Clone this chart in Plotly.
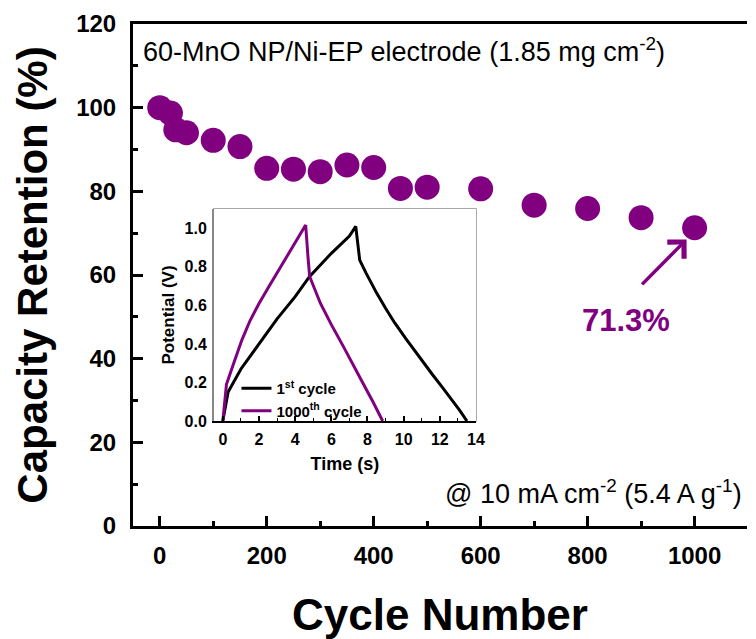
import plotly.graph_objects as go

# ---------------- data ----------------
cycles = [0, 20, 30, 50, 100, 150, 200, 250, 300, 350, 400, 450, 500, 600, 700, 800, 900, 1000]
retention = [100, 98.7, 94.7, 94.0, 92.2, 90.7, 85.5, 85.3, 84.7, 86.3, 85.7, 80.7, 81.0, 80.6, 76.7, 75.9, 73.7, 71.3]

x_ticks = [0, 200, 400, 600, 800, 1000]
y_ticks = [0, 20, 40, 60, 80, 100, 120]

# inset: galvanostatic charge/discharge curves
t_first = [0, 0.29, 1.0, 2.0, 3.0, 4.0, 4.8, 6.0, 7.0, 7.35, 7.57, 7.93, 8.5, 9.0, 9.5, 10.1,
           10.6, 11.1, 11.6, 12.1, 12.6, 13.1, 13.5]
v_first = [0, 0.15, 0.27, 0.40, 0.53, 0.645, 0.75, 0.87, 0.96, 1.01, 0.835, 0.766, 0.665, 0.585, 0.51, 0.43,
           0.365, 0.30, 0.24, 0.18, 0.12, 0.055, 0]
t_last = [0, 0.2, 0.6, 1.05, 1.5, 2.0, 2.5, 3.2, 4.0, 4.58, 4.71, 4.8, 5.4, 6.0, 6.67, 7.2, 7.75, 8.3, 8.84]
v_last = [0, 0.19, 0.30, 0.42, 0.52, 0.61, 0.69, 0.80, 0.92, 1.017, 0.85, 0.75, 0.61, 0.50, 0.386, 0.29, 0.196, 0.10, 0]

final_label = "71.3%"
arrow_tail = (899, 57.4)
arrow_head = (985, 68.5)

PURPLE = "#800080"
FONT = "Liberation Sans, Arial, sans-serif"

fig = go.Figure()

fig.add_trace(go.Scatter(
    x=cycles, y=retention, mode="markers",
    marker=dict(size=25, color=PURPLE, line=dict(width=0)),
    showlegend=False, xaxis="x", yaxis="y"))

fig.add_trace(go.Scatter(
    x=t_first, y=v_first, mode="lines", name="1<sup>st</sup> cycle",
    line=dict(color="black", width=3), xaxis="x2", yaxis="y2"))
fig.add_trace(go.Scatter(
    x=t_last, y=v_last, mode="lines", name="1000<sup>th</sup> cycle",
    line=dict(color=PURPLE, width=3), xaxis="x2", yaxis="y2"))

# inset domain in paper coords
L, R, T, B = 133, 756, 24, 526
W, H = R - L, B - T
def px_x(p):
    return (p - L) / W
def px_y(p):
    return (B - p) / H

ix0, ix1 = px_x(215), px_x(481)
iy0, iy1 = px_y(421), px_y(209)

fig.update_layout(
    width=756, height=639,
    margin=dict(l=L, r=0, t=T, b=639 - B),
    plot_bgcolor="white", paper_bgcolor="white",
    font=dict(family=FONT, color="black"),
    xaxis=dict(
        range=[-50, 1098], tickvals=x_ticks, showline=True, linewidth=3, linecolor="black",
        mirror=True, ticks="inside", ticklen=10, tickwidth=2.5, tickcolor="black",
        minor=dict(dtick=100, tick0=0, ticks="inside", ticklen=5, tickwidth=2.5, tickcolor="black"),
        showgrid=False, zeroline=False,
        tickfont=dict(size=24, family=FONT, weight="bold"),
        ticklabelstandoff=6,
        title=dict(text="Cycle Number", font=dict(size=44, family=FONT, weight="bold"), standoff=34),
        domain=[0, 1],
    ),
    yaxis=dict(
        range=[0, 120], tickvals=y_ticks, showline=True, linewidth=3, linecolor="black",
        mirror=False, ticks="inside", ticklen=10, tickwidth=2.5, tickcolor="black",
        minor=dict(dtick=10, tick0=0, ticks="inside", ticklen=5, tickwidth=2.5, tickcolor="black"),
        showgrid=False, zeroline=False,
        tickfont=dict(size=24, family=FONT, weight="bold"),
        ticklabelstandoff=9,
        title=dict(text="Capacity Retention (%)", font=dict(size=42, family=FONT, weight="bold"), standoff=16),
        domain=[0, 1],
    ),
    xaxis2=dict(
        domain=[ix0, ix1], anchor="y2", range=[-0.5, 14], dtick=2, tick0=0,
        showline=True, linewidth=2, linecolor="black", mirror=False,
        ticks="inside", ticklen=5, tickwidth=1.5, tickcolor="black",
        minor=dict(dtick=1, tick0=0, ticks="inside", ticklen=3, tickwidth=1.2, tickcolor="black"),
        showgrid=False, zeroline=False,
        tickfont=dict(size=16, family=FONT, weight="bold"),
        ticklabelstandoff=3,
        title=dict(text="Time (s)", font=dict(size=18, family=FONT, weight="bold"), standoff=10),
    ),
    yaxis2=dict(
        domain=[iy0, iy1], anchor="x2", range=[0, 1.1], tickvals=[0, 0.2, 0.4, 0.6, 0.8, 1.0],
        tickformat=".1f", showline=True, linewidth=1.5, linecolor="#888888", mirror=False,
        ticks="", showgrid=False, zeroline=False,
        tickfont=dict(size=16, family=FONT, weight="bold"),
        ticklabelstandoff=2,
        title=dict(text="Potential (V)", font=dict(size=17, family=FONT, weight="bold"), standoff=6),
    ),
    legend=dict(
        x=px_x(238), y=px_y(372), xanchor="left", yanchor="top",
        bgcolor="rgba(0,0,0,0)", borderwidth=0,
        font=dict(size=15, family=FONT, weight="bold"),
        itemwidth=30, tracegroupgap=0,
    ),
)

# inset frame (gray top/right)
fig.add_shape(type="rect", xref="paper", yref="paper", x0=ix0, x1=ix1, y0=iy0, y1=iy1,
              line=dict(color="#8c8c8c", width=1.5), layer="below")

fig.add_annotation(
    xref="paper", yref="paper", x=px_x(141), y=px_y(50), xanchor="left", yanchor="middle",
    text="60-MnO NP/Ni-EP electrode (1.85 mg cm<sup>-2</sup>)", showarrow=False,
    font=dict(size=27, family=FONT, color="black"))
fig.add_annotation(
    xref="paper", yref="paper", x=px_x(753), y=px_y(492), xanchor="right", yanchor="middle",
    text="@ 10 mA cm<sup>-2</sup> (5.4 A g<sup>-1</sup>)", showarrow=False,
    font=dict(size=27, family=FONT, color="black"))
fig.add_annotation(
    xref="paper", yref="paper", x=px_x(633), y=px_y(321), xanchor="center", yanchor="middle",
    text=final_label, showarrow=False,
    font=dict(size=31, family=FONT, color=PURPLE, weight="bold"))
fig.add_annotation(
    x=arrow_head[0], y=arrow_head[1], ax=arrow_tail[0], ay=arrow_tail[1],
    xref="x", yref="y", axref="x", ayref="y", text="", showarrow=True,
    arrowhead=4, arrowsize=1.3, arrowwidth=3.5, arrowcolor=PURPLE)

fig.write_html("out.html")
